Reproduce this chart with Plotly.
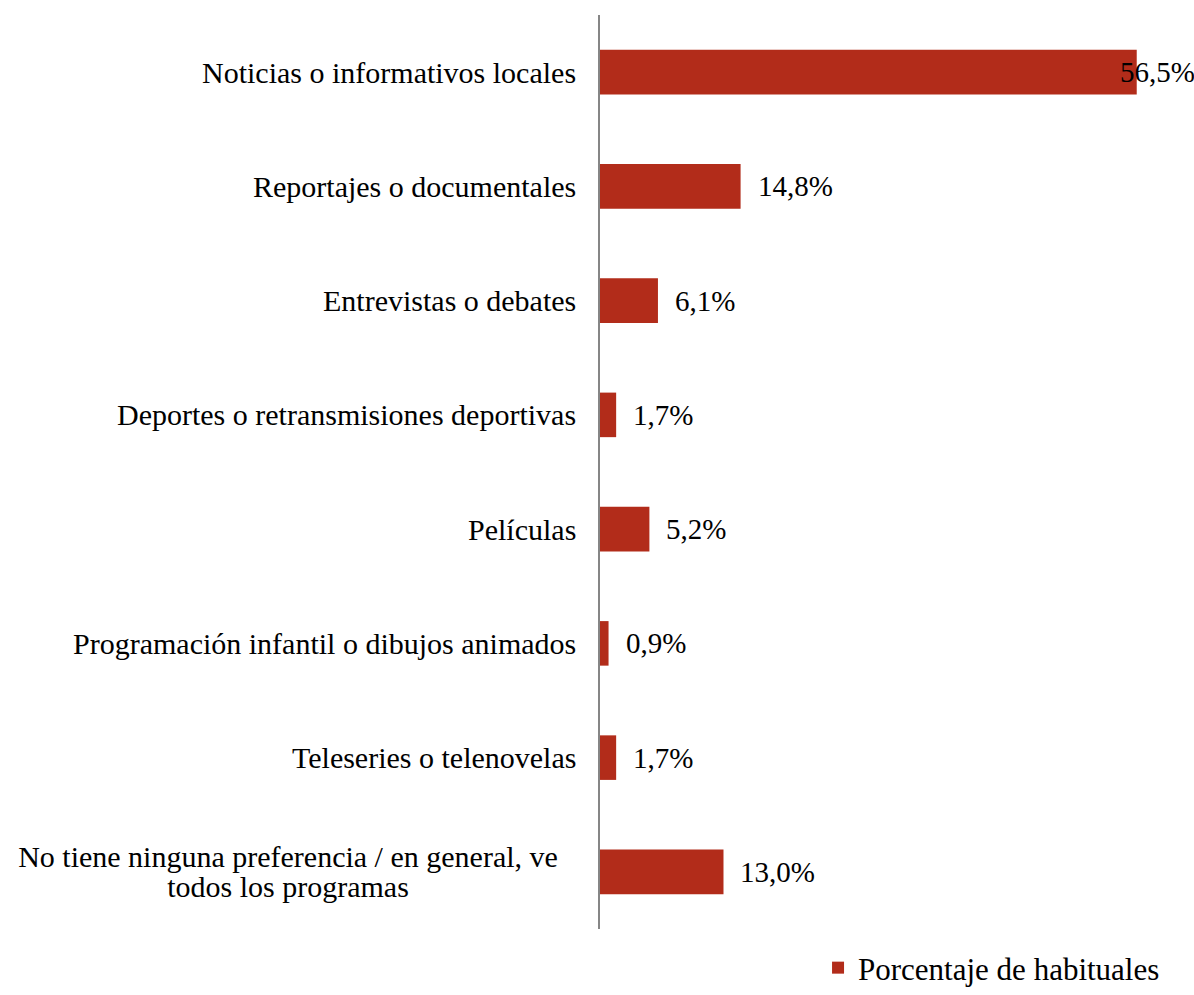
import plotly.graph_objects as go

categories = [
    "Noticias o informativos locales",
    "Reportajes o documentales",
    "Entrevistas o debates",
    "Deportes o retransmisiones deportivas",
    "Películas",
    "Programación infantil o dibujos animados",
    "Teleseries o telenovelas",
    "No tiene ninguna preferencia / en general, ve<br>todos los programas",
]
values = [56.5, 14.8, 6.1, 1.7, 5.2, 0.9, 1.7, 13.0]
value_labels = ["56,5%", "14,8%", "6,1%", "1,7%", "5,2%", "0,9%", "1,7%", "13,0%"]
series_name = "Porcentaje de habituales"

FONT = "Liberation Serif"
FS = 30
VFS = 29
BAR = "#B22C1A"

fig = go.Figure()
fig.add_trace(go.Bar(
    y=categories, x=values, orientation="h", width=0.39,
    marker=dict(color=BAR, line=dict(width=0)),
    name=series_name, showlegend=True, hoverinfo="skip",
))

annotations = []
vmax = max(values)
for cat, v, lab in zip(categories, values, value_labels):
    annotations.append(dict(
        x=v, y=cat, xref="x", yref="y", text=lab, showarrow=False,
        xanchor="left", yanchor="middle", xshift=(-19 if v == vmax else 15),
        font=dict(family=FONT, size=VFS, color="#000000"),
    ))
    lines = cat.split("<br>")
    if len(lines) == 1:
        annotations.append(dict(
            x=0, y=cat, xref="paper", yref="y", text=cat, showarrow=False,
            xanchor="right", yanchor="middle", xshift=-22,
            font=dict(family=FONT, size=FS, color="#000000"),
        ))
    else:
        n = len(lines)
        for i, ln in enumerate(lines):
            annotations.append(dict(
                x=0, y=cat, xref="paper", yref="y", text=ln, showarrow=False,
                xanchor="right", yanchor="middle", xshift=-20, width=580, align="center",
                yshift=(n - 1) * 15 - i * 30,
                font=dict(family=FONT, size=FS, color="#000000"),
            ))

fig.update_layout(
    width=1194, height=995,
    margin=dict(l=600, r=34, t=15, b=66, autoexpand=False),
    paper_bgcolor="white", plot_bgcolor="white",
    bargap=0.61,
    xaxis=dict(range=[0, 58.95], showgrid=False, zeroline=False, showticklabels=False,
               showline=False, ticks=""),
    yaxis=dict(autorange="reversed", showgrid=False, zeroline=False, showticklabels=False,
               showline=True, linecolor="#868686", linewidth=2, ticks=""),
    legend=dict(orientation="h", x=1.009, xanchor="right",
                yref="container", y=0.0, yanchor="bottom",
                font=dict(family=FONT, size=31, color="#000000"),
                bgcolor="rgba(0,0,0,0)"),
    annotations=annotations,
    showlegend=True,
)

fig.write_html("out.html", config={"displayModeBar": False},
               post_script="document.body.style.margin='0';")
